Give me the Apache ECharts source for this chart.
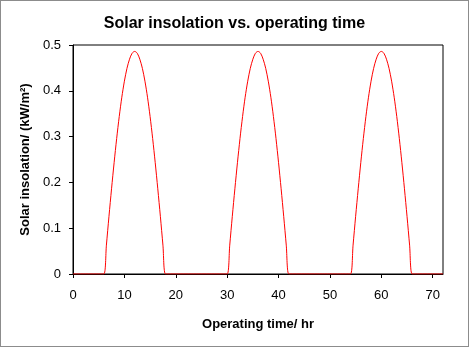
<!DOCTYPE html>
<html>
<head>
<meta charset="utf-8">
<script src="https://cdn.jsdelivr.net/npm/echarts@6/dist/echarts.min.js"></script>
<style>
  html, body { margin: 0; padding: 0; background: #fff; }
  #chart { width: 469px; height: 347px; box-sizing: border-box; border: 1px solid #8c8c8c; }
</style>
</head>
<body>
<div id="chart"></div>
<script>
// operating time, hr
var hours = [0,1,2,3,4,5,
             6,6.5,7,7.5,8,8.5,9,9.5,10,10.5,11,11.5,12,12.5,13,13.5,14,14.5,15,15.5,16,16.5,17,17.5,18,
             19,20,21,22,23,24,25,26,27,28,29,
             30,30.5,31,31.5,32,32.5,33,33.5,34,34.5,35,35.5,36,36.5,37,37.5,38,38.5,39,39.5,40,40.5,41,41.5,42,
             43,44,45,46,47,48,49,50,51,52,53,
             54,54.5,55,55.5,56,56.5,57,57.5,58,58.5,59,59.5,60,60.5,61,61.5,62,62.5,63,63.5,64,64.5,65,65.5,66,
             67,68,69,70,71,72];
// solar insolation, kW/m2
var insolation = [0,0,0,0,0,0,
                  0,0.063,0.126,0.186,0.243,0.296,0.344,0.386,0.421,0.449,0.469,0.482,0.486,
                  0.482,0.469,0.449,0.421,0.386,0.344,0.296,0.243,0.186,0.126,0.063,0,
                  0,0,0,0,0,0,0,0,0,0,0,
                  0,0.063,0.126,0.186,0.243,0.296,0.344,0.386,0.421,0.449,0.469,0.482,0.486,
                  0.482,0.469,0.449,0.421,0.386,0.344,0.296,0.243,0.186,0.126,0.063,0,
                  0,0,0,0,0,0,0,0,0,0,0,
                  0,0.063,0.126,0.186,0.243,0.296,0.344,0.386,0.421,0.449,0.469,0.482,0.486,
                  0.482,0.469,0.449,0.421,0.386,0.344,0.296,0.243,0.186,0.126,0.063,0,
                  0,0,0,0,0,0];
var xTicks = [0,10,20,30,40,50,60,70];

var chart = echarts.init(document.getElementById('chart'));

var points = hours.map(function(h, i) { return [h, insolation[i]]; });

var option = {
    animation: false,
    textStyle: { fontFamily: 'Liberation Sans' },
    title: {
        text: 'Solar insolation vs. operating time',
        left: 'center',
        top: 10,
        textStyle: { fontFamily: 'Liberation Sans', fontSize: 16, fontWeight: 'bold', color: '#000' }
    },
    grid: {
        left: 72, right: 25, top: 44, bottom: 72,
        show: true, borderColor: '#000', borderWidth: 1, backgroundColor: 'transparent'
    },
    xAxis: {
        type: 'value',
        min: 0, max: 72, interval: 10,
        name: 'Operating time/ hr',
        nameLocation: 'middle',
        nameGap: 44,
        nameTextStyle: { fontFamily: 'Liberation Sans', fontSize: 13, fontWeight: 'bold', color: '#000' },
        axisLine: { lineStyle: { color: '#000', width: 1 } },
        axisTick: { show: true, length: 4, customValues: xTicks, lineStyle: { color: '#000' } },
        axisLabel: { customValues: xTicks, color: '#000', fontSize: 13, margin: 15 },
        splitLine: { show: false }
    },
    yAxis: {
        type: 'value',
        min: 0, max: 0.5, interval: 0.1,
        name: 'Solar insolation/ (kW/m\u00b2)',
        nameLocation: 'middle',
        nameGap: 40,
        nameTextStyle: { fontFamily: 'Liberation Sans', fontSize: 13, fontWeight: 'bold', color: '#000' },
        axisLine: { show: true, lineStyle: { color: '#000', width: 1 } },
        axisTick: { show: true, length: 4, lineStyle: { color: '#000' } },
        axisLabel: { color: '#000', fontSize: 13, margin: 12 },
        splitLine: { show: false }
    },
    series: [{
        type: 'line',
        data: points,
        smooth: 0.3,
        showSymbol: false,
        lineStyle: { color: '#ff0000', width: 1 },
        z: 5
    }]
};

chart.setOption(option);
</script>
</body>
</html>
